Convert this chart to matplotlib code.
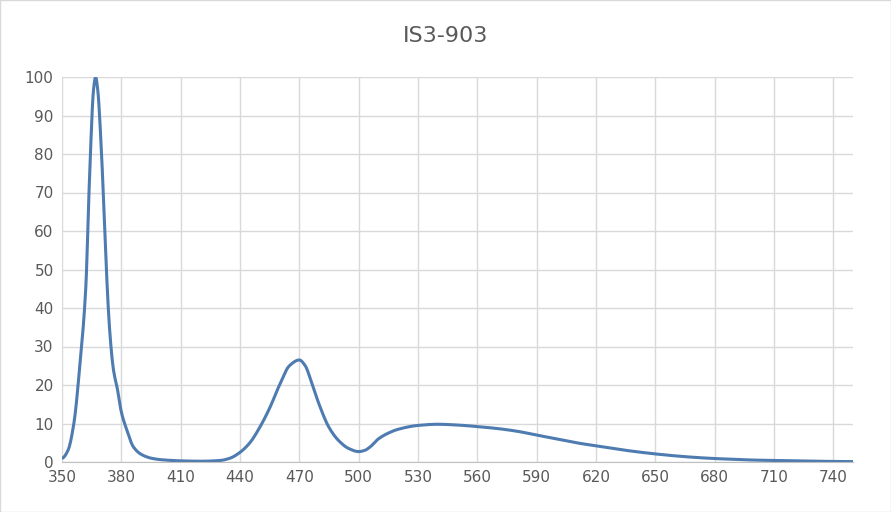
import matplotlib
matplotlib.use("Agg")
import matplotlib.pyplot as plt
from scipy.interpolate import PchipInterpolator
import numpy as np

wavelength = [350,353,356,359,362,364,366,367,368,370,372,374,376,378,380,383,386,390,395,400,410,420,430,435,440,445,450,455,460,465,470,473,476,480,485,490,495,500,503,506,510,515,520,530,540,550,560,570,580,590,600,610,620,630,640,650,660,670,680,690,700,710,720,730,740,750]
intensity = [1,3,10,25,45,75,97,100,97,80,55,35,24,19,13,8,4,2,1,0.6,0.3,0.2,0.4,1,2.5,5,9,14,20,25,26.5,25,21,15,9,5.5,3.5,2.7,3,4,6,7.5,8.5,9.5,9.8,9.6,9.2,8.7,8.0,7.0,6.0,5.0,4.2,3.4,2.7,2.1,1.6,1.2,0.9,0.7,0.5,0.4,0.3,0.2,0.15,0.1]
xticks = list(range(350, 741, 30))
yticks = list(range(0, 101, 10))

fig = plt.figure(figsize=(8.91, 5.12), dpi=100)
ax = fig.add_axes([62/891, 50/512, (853-62)/891, (462-77)/512])
xs = np.linspace(350, 750, 1200)
ax.plot(xs, PchipInterpolator(wavelength, intensity)(xs), color="#4e7bb0", lw=2.2)
ax.set_xlim(350, 750)
ax.set_ylim(0, 100)
ax.set_xticks(xticks)
ax.set_yticks(yticks)
ax.grid(True, color="#d9d9d9", lw=1)
for s in ["top", "right", "left"]:
    ax.spines[s].set_visible(False)
ax.spines["bottom"].set_color("#bfbfbf")
ax.tick_params(length=0, labelsize=11, colors="#595959", pad=6)
ax.set_axisbelow(True)
fig.text(0.5, 1 - 36/512, "IS3-903", ha="center", va="center", fontsize=16, color="#595959")
fig.patches.append(plt.Rectangle((0, 0), 1, 1, transform=fig.transFigure, fill=False, ec="#d9d9d9", lw=1))
fig.savefig("out.png", dpi=100)
